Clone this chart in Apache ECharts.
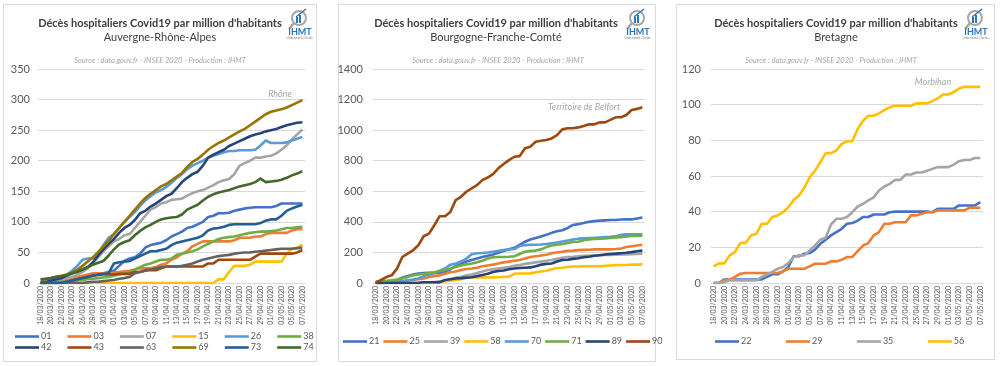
<!DOCTYPE html>
<html><head><meta charset="utf-8">
<script src="https://cdn.jsdelivr.net/npm/echarts@6/dist/echarts.min.js"></script>
<style>html,body{margin:0;padding:0;background:#fff}#c{width:1000px;height:366px}</style>
</head><body><div id="c"></div>
<script>
const dates = ['18/03/2020','19/03/2020','20/03/2020','21/03/2020','22/03/2020','23/03/2020','24/03/2020','25/03/2020','26/03/2020','27/03/2020','28/03/2020','29/03/2020','30/03/2020','31/03/2020',
'01/04/2020','02/04/2020','03/04/2020','04/04/2020','05/04/2020','06/04/2020','07/04/2020','08/04/2020','09/04/2020','10/04/2020','11/04/2020','12/04/2020','13/04/2020','14/04/2020','15/04/2020','16/04/2020','17/04/2020','18/04/2020','19/04/2020','20/04/2020','21/04/2020','22/04/2020','23/04/2020','24/04/2020','25/04/2020','26/04/2020','27/04/2020','28/04/2020','29/04/2020','30/04/2020',
'01/05/2020','02/05/2020','03/05/2020','04/05/2020','05/05/2020','06/05/2020','07/05/2020'];

const panelTitle = "Décès hospitaliers Covid19 par million d'habitants";
const regions = ['Auvergne-Rhône-Alpes','Bourgogne-Franche-Comté','Bretagne'];
const sourceText = 'Source : data.gouv.fr - INSEE 2020 - Production : IHMT';
const highlights = ['Rhône','Territoire de Belfort','Morbihan'];
const yMax = [350, 1400, 120];
const yStep = [50, 200, 20];

// Auvergne-Rhône-Alpes
const ara01 = [0,1,2,3,4,5,6,8,10,12,14,15,16,18,20,28,36,40,42,48,58,62,64,66,70,76,80,84,90,92,96,100,108,110,114,114,115,118,120,122,123,124,124,124,124,126,130,130,130,130,130];
const ara03 = [0,0,0,2,4,6,8,10,12,14,16,16,16,16,17,18,19,20,22,24,24,24,26,30,32,38,42,48,52,60,64,68,68,68,68,68,68,70,74,74,74,76,76,80,82,82,82,82,86,88,88];
const ara07 = [0,0,2,4,6,8,10,14,18,24,32,42,52,60,68,72,78,80,90,100,110,120,124,130,132,136,137,138,143,147,150,152,156,160,165,168,170,178,192,196,200,205,205,207,208,212,218,225,235,243,251];
const ara15 = [0,0,0,0,0,0,0,0,0,0,0,0,0,0,0,0,0,0,0,0,0,0,0,0,0,0,0,0,0,0,0,0,0,0,6,6,18,28,28,28,30,35,35,35,35,35,35,48,56,57,63];
const ara26 = [0,0,2,4,8,14,20,28,38,40,40,48,62,74,80,90,100,108,116,126,135,142,148,152,157,164,172,178,186,192,196,200,205,208,211,214,216,216,217,217,217,218,225,233,229,229,229,230,233,236,239];
const ara38 = [0,0,0,0,1,2,3,4,5,6,7,8,9,10,12,14,16,18,22,26,30,32,35,38,38,40,46,48,50,52,55,60,64,68,72,74,75,76,78,80,82,83,84,84,85,86,88,90,90,91,92];
const ara42 = [0,2,4,6,8,12,16,20,22,26,34,45,55,64,72,82,90,95,103,114,118,125,130,136,142,146,155,165,172,178,182,192,205,210,214,218,224,228,232,236,240,243,245,248,250,252,255,258,260,262,263];
const ara43 = [0,0,0,0,0,2,4,6,8,10,12,13,14,14,14,15,15,15,18,18,21,21,21,24,27,27,27,27,27,27,27,27,32,32,38,38,38,38,38,38,38,43,48,48,48,48,48,48,48,50,54];
const ara63 = [0,0,0,0,0,0,0,0,0,1,2,2,3,4,5,7,8,10,16,18,20,22,24,26,27,27,27,28,30,32,35,38,40,42,44,45,46,48,49,50,50,51,52,53,54,55,56,56,56,57,58];
const ara69 = [5,6,8,10,12,14,17,22,28,35,42,51,60,69,80,90,100,110,120,130,139,146,152,158,162,168,174,180,190,198,203,210,218,224,229,233,238,243,248,252,258,264,270,276,280,282,284,287,291,295,299];
const ara73 = [0,0,0,0,0,2,4,6,8,10,12,14,15,16,32,34,35,36,40,44,48,52,52,54,56,62,66,68,70,72,74,78,86,89,90,92,95,96,96,96,96,96,98,102,104,104,110,118,122,125,128];
const ara74 = [6,7,8,10,11,13,16,18,22,26,30,33,36,45,55,63,67,70,78,85,91,95,100,104,106,107,108,112,120,124,128,135,141,145,148,150,152,155,158,160,162,165,171,165,166,167,169,172,176,179,183];

// Bourgogne-Franche-Comté
const bfc21 = [0,5,10,15,20,35,45,55,62,65,66,66,68,72,90,110,125,140,150,160,170,178,186,198,210,220,230,250,270,285,295,305,315,328,338,345,360,380,385,392,400,405,408,410,412,412,415,416,416,422,428];
const bfc25 = [0,0,2,5,8,10,15,20,24,30,40,45,50,60,70,75,85,92,95,100,110,115,120,128,135,140,145,150,160,170,175,180,185,195,200,205,210,212,215,217,218,220,220,220,220,222,225,235,240,245,250];
const bfc39 = [0,0,0,0,0,0,0,0,0,0,2,5,10,15,25,35,40,50,55,65,75,85,90,95,100,105,112,118,125,130,135,140,145,150,158,165,170,172,175,178,180,180,182,183,184,185,186,186,188,190,192];
const bfc58 = [0,0,0,0,0,0,0,0,0,0,0,2,5,10,15,20,25,35,37,37,37,37,37,38,40,42,60,62,62,63,70,75,80,90,98,100,105,108,108,110,110,110,110,112,115,118,118,118,120,120,122];
const bfc70 = [0,0,2,5,8,12,18,22,30,45,55,65,80,95,120,128,140,160,188,195,196,200,205,210,215,220,222,242,248,250,250,252,255,260,265,272,278,285,290,292,294,295,298,300,302,305,315,318,318,318,318];
const bfc71 = [10,12,15,18,22,30,40,50,56,60,65,70,78,85,95,105,115,122,128,135,145,160,168,170,170,172,175,190,205,210,212,220,235,245,250,255,262,268,270,280,285,288,290,292,295,298,300,305,308,308,310];
const bfc89 = [0,0,0,0,0,0,0,0,2,5,5,5,6,20,25,30,32,35,38,45,52,60,72,78,82,90,95,98,100,102,110,120,125,128,140,150,152,158,162,168,172,178,182,186,190,192,195,198,202,208,212];
const bfc90 = [0,20,39,50,94,170,192,214,247,306,323,378,437,437,465,542,564,597,619,640,673,690,712,750,778,804,826,830,881,892,924,931,935,946,968,1005,1012,1012,1018,1027,1038,1038,1051,1051,1067,1084,1084,1099,1132,1139,1150];

// Bretagne
const bre22 = [0,0,2,2,2,2,2,2,2,2,3.4,4.9,4.9,6.5,9,15,15,16.4,16.8,18.7,22,24.3,26.7,28.5,30.4,33.2,33.6,35,37,37,38.4,38.4,38.4,39.7,40,40,40,40,40,40,40,39.7,41.6,41.6,41.6,41.6,43.5,43.5,43.5,43.5,45.3];
const bre29 = [0,0,1.5,1.9,3.4,5.2,5.6,5.6,5.6,5.6,5.6,5.6,5.6,6.5,8,8,8,8,9.3,10.8,10.8,10.8,12.1,12.1,13,14.6,14.6,17.9,21,22.4,26.7,28.5,33.2,33.2,34.1,34.1,34.1,37.9,37.9,38.8,39.7,39.7,40.7,40.7,40.7,40.7,40.7,40.7,42.2,42.2,42.2];
const bre35 = [0,0,0.5,1.5,1.5,1.5,1.5,1.5,1.5,3.4,4.9,6.2,8,9,11.2,14.6,15.5,15.5,18.3,21,24.3,25.4,32.8,36,36,37,39.7,42.9,44.4,46.3,48,51.9,54.1,55.6,57.8,57.8,60.8,60.8,62,62,63,64,65,65,65,66.4,68.3,69,69,70.1,70.1];
const bre56 = [9.3,11,11,15.5,17.4,22.4,22.4,26.7,27.6,33.2,33.2,37,37.9,39.7,42.5,46.6,49,53.4,59.3,63,67.7,72.8,72.8,74.3,78,79.5,79.5,86.4,91,93.8,93.8,95.1,97,98.5,99.4,99.4,99.4,99.4,100.7,100.7,100.7,102,103.5,105.7,105.7,107,109,110,110,110,110];

const panels = [
  { names:['01','03','07','15','26','38','42','43','63','69','73','74'],
    data:[ara01,ara03,ara07,ara15,ara26,ara38,ara42,ara43,ara63,ara69,ara73,ara74],
    colors:['#4472C4','#ED7D31','#A5A5A5','#FFC000','#5B9BD5','#70AD47','#264478','#9E480E','#636363','#997300','#255E91','#43682B'] },
  { names:['21','25','39','58','70','71','89','90'],
    data:[bfc21,bfc25,bfc39,bfc58,bfc70,bfc71,bfc89,bfc90],
    colors:['#4472C4','#ED7D31','#A5A5A5','#FFC000','#5B9BD5','#70AD47','#264478','#9E480E'] },
  { names:['22','29','35','56'],
    data:[bre22,bre29,bre35,bre56],
    colors:['#4472C4','#ED7D31','#A5A5A5','#FFC000'] }
];

const FONT = 'Lato, "Open Sans", sans-serif';
const gridDefs = [
  {left:38, top:69, width:267, height:214},
  {left:373, top:69, width:272, height:214},
  {left:711, top:69, width:272, height:214}
];
const yLabelMargin = [8, 10, 10];

const series = [];
panels.forEach((p, k) => {
  p.names.forEach((n, j) => {
    series.push({
      type:'line', name:n, data:p.data[j], xAxisIndex:k, yAxisIndex:k,
      symbol:'none', showSymbol:false, animation:false,
      lineStyle:{width:2.6, color:p.colors[j], join:'round'},
      itemStyle:{color:p.colors[j]}
    });
  });
});

const legendBase = {
  orient:'horizontal', itemWidth:24, itemHeight:10, icon:'path://M0,4L24,4L24,6.6L0,6.6Z',
  padding:0,
  textStyle:{fontSize:9, color:'#595959', fontFamily:FONT, padding:[0,0,0,-3]},
  selectedMode:false
};
const legends = [
  Object.assign({}, legendBase, {data:panels[0].names.slice(0,6), left:15, top:332, itemGap:16}),
  Object.assign({}, legendBase, {data:panels[0].names.slice(6), left:15, top:343, itemGap:16}),
  Object.assign({}, legendBase, {data:panels[1].names, left:343, top:337, itemGap:4}),
  Object.assign({}, legendBase, {data:panels[2].names, left:715, top:337, itemGap:34.5})
];

const graphics = [];
const borders = [[3.5,4.5,313,357],[338.5,4.5,317,357],[676.5,4.5,318,355]];
const titleCx = [160, 496, 836];
const srcCx = [160, 498, 831];
const logoX = [287, 625, 963];
const hl = [[280,94],[584,107],[933,82]];
borders.forEach(b => graphics.push({type:'rect', shape:{x:b[0],y:b[1],width:b[2],height:b[3]}, style:{fill:'none', stroke:'#D9D9D9', lineWidth:1}, silent:true}));
for (let k=0;k<3;k++){
  graphics.push({type:'text', x:titleCx[k], y:23, style:{text:panelTitle, fill:'#404040', font:'bold 11px '+FONT, align:'center', verticalAlign:'middle'}});
  graphics.push({type:'text', x:titleCx[k], y:37.5, style:{text:regions[k], fill:'#404040', font:'11px '+FONT, align:'center', verticalAlign:'middle'}});
  graphics.push({type:'text', x:srcCx[k], y:61, style:{text:sourceText, fill:'#A6A6A6', font:'italic 7.5px '+FONT, align:'center', verticalAlign:'middle'}});
  graphics.push({type:'text', x:hl[k][0], y:hl[k][1], style:{text:highlights[k], fill:'#A6A6A6', font:'italic 9px '+FONT, align:'center', verticalAlign:'middle'}});
  const lx = logoX[k];
  graphics.push({type:'group', x:lx, y:8, silent:true, children:[
    {type:'circle', shape:{cx:12, cy:10, r:7}, style:{fill:'none', stroke:'#A6A6A6', lineWidth:2}},
    {type:'line', shape:{x1:7, y1:15, x2:2, y2:21}, style:{stroke:'#A6A6A6', lineWidth:2.5}},
    {type:'rect', shape:{x:9, y:9, width:2, height:6}, style:{fill:'#2E75B6'}},
    {type:'rect', shape:{x:12, y:7, width:2, height:8}, style:{fill:'#2E75B6'}},
    {type:'line', shape:{x1:9, y1:9, x2:19, y2:1}, style:{stroke:'#2E75B6', lineWidth:1.5}},
    {type:'text', x:13, y:24, style:{text:'IHMT', fill:'#2E75B6', font:'bold 9px '+FONT, align:'center', verticalAlign:'middle'}},
    {type:'text', x:13, y:30, style:{text:'Understand. Decide.', fill:'#7F7F7F', font:'3px '+FONT, align:'center', verticalAlign:'middle'}}
  ]});
}

const option = {
  backgroundColor:'#fff',
  animation:false,
  grid: gridDefs.map(g => Object.assign({containLabel:false}, g)),
  xAxis: gridDefs.map((g,k) => ({
    type:'category', gridIndex:k, data:dates, boundaryGap:true,
    axisLine:{lineStyle:{color:'#D9D9D9', width:1}}, axisTick:{show:false},
    axisLabel:{rotate:90, interval:1, fontSize:7, color:'#595959', fontFamily:FONT, margin:3}
  })),
  yAxis: gridDefs.map((g,k) => ({
    type:'value', gridIndex:k, min:0, max:yMax[k], interval:yStep[k],
    axisLine:{show:false}, axisTick:{show:false},
    splitLine:{lineStyle:{color:'#D9D9D9', width:1}},
    axisLabel:{fontSize:11, color:'#595959', fontFamily:FONT, margin:yLabelMargin[k], formatter: v => String(v)}
  })),
  legend: legends,
  graphic: graphics,
  series: series
};
const chart = echarts.init(document.getElementById('c'), null, {renderer:'canvas'});
chart.setOption(option);
</script></body></html>
